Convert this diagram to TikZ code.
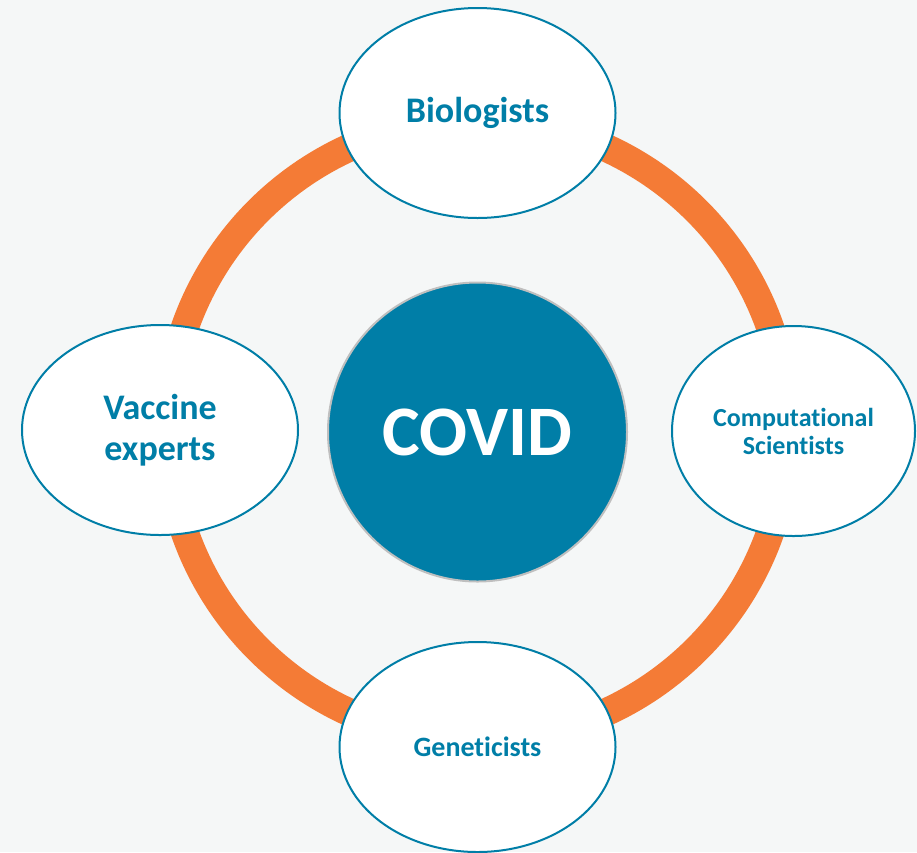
\documentclass[tikz,border=0pt]{standalone}
\usepackage{fontspec}
\setmainfont{Carlito}[Ligatures=NoCommon]
\usetikzlibrary{shapes.geometric}
\definecolor{page gray}{HTML}{F5F7F7}
\definecolor{team blue}{HTML}{007EA7}
\definecolor{ring orange}{HTML}{F47B36}
\colorlet{core edge}{black!25}
\tikzset{
  team/.style={ellipse, draw=team blue, line width=2pt, fill=white, text=team blue,
    font=\bfseries, align=center, minimum width=276pt, minimum height=210pt, inner sep=0pt},
  core/.style={circle, fill=team blue, draw=core edge, line width=2pt, minimum size=299pt,
    inner sep=0pt, text=white, font=\fontsize{71}{80}\selectfont\bfseries},
  loop ring/.style={draw=ring orange, line width=28pt}
}
\begin{document}
\begin{tikzpicture}[x=1pt, y=-1pt]
    \useasboundingbox (0,0) rectangle (917,852);
    \fill[page gray] (0,0) rectangle (917,852);
    \clip (0,0) rectangle (917,852);
    \coordinate (hub) at (477.5,430);
    \draw[loop ring] (hub) circle (310pt);
    \node[core] (covid) at (477.5,432) {COVID};
    \node[team, font=\fontsize{36}{41}\selectfont\bfseries] (bio) at (477.5,113) {Biologists};
    \node[team, minimum width=243pt, font=\fontsize{26}{28}\selectfont\bfseries] (comp) at (793.5,431) {Computational\\Scientists};
    \node[team, font=\fontsize{28}{30}\selectfont\bfseries] (gen) at (477.5,747) {Geneticists};
    \node[team, font=\fontsize{36}{41}\selectfont\bfseries] (vac) at (160,430) {Vaccine\\experts};
\end{tikzpicture}
\end{document}
